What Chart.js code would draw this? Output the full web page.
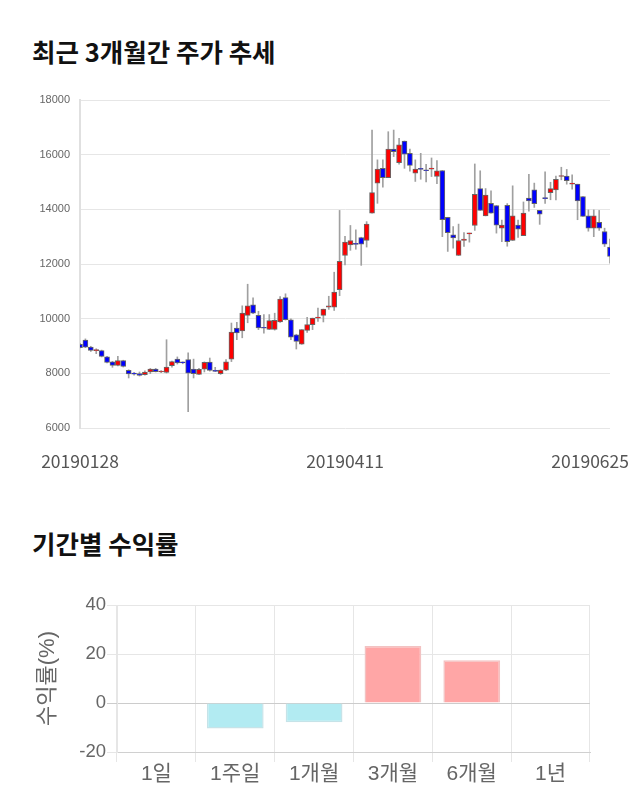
<!DOCTYPE html>
<html>
<head>
<meta charset="utf-8">
<script src="https://cdn.jsdelivr.net/npm/chart.js@4.4.0/dist/chart.umd.min.js"></script>
<style>
  body { margin: 0; background: #fff; width: 640px; height: 810px; position: relative; overflow: hidden; }
  .title { position: absolute; left: 32px; font-family: "Noto Sans CJK KR", sans-serif; font-weight: bold; font-size: 25.5px; line-height: 30px; color: #111; }
  .box { position: absolute; left: 0; }
</style>
</head>
<body>
<div class="title" style="top:36px;">최근 3개월간 주가 추세</div>
<div class="box" style="top:80px;"><canvas id="priceChart" width="640" height="400"></canvas></div>
<div class="title" style="top:528px;">기간별 수익률</div>
<div class="box" style="top:580px;"><canvas id="returnChart" width="640" height="220"></canvas></div>
<script>
// trading days shown on the price chart
var dates = [
  '20190128','20190129','20190130','20190131','20190201','20190207','20190208','20190211','20190212','20190213',
  '20190214','20190215','20190218','20190219','20190220','20190221','20190222','20190225','20190226','20190227',
  '20190228','20190304','20190305','20190306','20190307','20190308','20190311','20190312','20190313','20190314',
  '20190315','20190318','20190319','20190320','20190321','20190322','20190325','20190326','20190327','20190328',
  '20190329','20190401','20190402','20190403','20190404','20190405','20190408','20190409','20190410','20190411',
  '20190412','20190415','20190416','20190417','20190418','20190419','20190422','20190423','20190424','20190425',
  '20190426','20190429','20190430','20190502','20190503','20190507','20190508','20190509','20190510','20190513',
  '20190514','20190515','20190516','20190517','20190520','20190521','20190522','20190523','20190524','20190527',
  '20190528','20190529','20190530','20190531','20190603','20190604','20190605','20190607','20190610','20190611',
  '20190612','20190613','20190614','20190617','20190618','20190619','20190620','20190624','20190625'
];
var shownDates = ['20190128', '20190411', '20190625'];

var opens = [
  9060, 9220, 8960, 8830, 8830, 8600, 8420, 8290, 8470, 8110,
  7980, 7990, 7950, 8050, 8160, 8050, 8030, 8280, 8520, 8390,
  8500, 8160, 7960, 8150, 8410, 8110, 7990, 8120, 8520, 9660,
  9550, 10120, 10510, 10120, 9660, 9610, 9610, 9880, 10770, 9960,
  9410, 9070, 9570, 9780, 10020, 10120, 10420, 10420, 11060, 12310,
  12700, 12730, 12970, 12860, 13860, 14960, 15500, 15160, 16200, 15710,
  16500, 16050, 15320, 15470, 15420, 15470, 15200, 15420, 13710, 13070,
  12310, 12860, 13100, 13410, 14760, 13760, 14220, 14140, 13310, 14150,
  12860, 13420, 13040, 14410, 14710, 13960, 14410, 14610, 14710, 15200,
  15220, 14920, 14920, 14470, 13760, 13310, 13520, 13190, 12620
];
var highs = [
  9100, 9260, 8990, 8900, 8850, 8620, 8440, 8620, 8480, 8130,
  8040, 8050, 8090, 8180, 8180, 8100, 9230, 8450, 8600, 8420,
  8750, 8520, 8180, 8420, 8560, 8220, 8130, 8500, 9840, 9870,
  10470, 11260, 10760, 10270, 10150, 10150, 10200, 10810, 10910, 9990,
  9430, 9600, 10050, 10020, 10390, 10350, 10820, 11700, 13960, 13010,
  13410, 13250, 12980, 13550, 16900, 15810, 15810, 16840, 16900, 16600,
  16500, 16200, 15810, 16050, 15650, 15880, 15780, 15420, 13710, 13370,
  13460, 13150, 13130, 15660, 15410, 14760, 14680, 14140, 13610, 14210,
  14860, 13610, 14270, 15280, 14960, 13960, 15370, 14990, 15220, 15540,
  15460, 15260, 14920, 14470, 13980, 13980, 13960, 13310, 12910
];
var lows = [
  8930, 8940, 8800, 8720, 8600, 8380, 8220, 8270, 8230, 7830,
  7930, 7900, 7930, 7990, 8050, 8020, 8010, 8230, 8340, 8350,
  6600, 7830, 7950, 8050, 8080, 8060, 7960, 8100, 8430, 9230,
  9300, 9850, 10180, 9600, 9470, 9600, 9580, 9860, 9950, 9230,
  8890, 9060, 9500, 9600, 9900, 9880, 10340, 10300, 10840, 11970,
  12500, 12540, 11950, 12620, 13860, 14220, 14810, 15160, 15930, 15650,
  15500, 15400, 15020, 15100, 15000, 15200, 14940, 13000, 12460, 12580,
  12310, 12640, 12800, 13230, 13960, 13760, 13860, 13130, 12820, 12650,
  12860, 12970, 13040, 13930, 14070, 13450, 14220, 14350, 14340, 15080,
  14920, 14740, 13620, 13740, 13200, 13000, 13230, 12640, 12030
];
var closes = [
  8940, 8960, 8840, 8830, 8620, 8400, 8290, 8470, 8250, 7980,
  7970, 7920, 8050, 8160, 8060, 8050, 8230, 8430, 8380, 8380,
  8010, 7990, 8150, 8400, 8110, 8070, 8120, 8420, 9510, 9480,
  10200, 10470, 10200, 9660, 9650, 9930, 9940, 10720, 9960, 9320,
  9170, 9600, 9780, 10020, 10020, 10350, 10470, 10970, 12100, 12800,
  12860, 12720, 12730, 13460, 14610, 15470, 15160, 16200, 16110, 16360,
  16020, 15610, 15470, 15460, 15410, 15500, 15410, 13620, 13150, 12950,
  12860, 12910, 13100, 14550, 13960, 14520, 13860, 13420, 13420, 12820,
  13760, 13270, 13860, 14310, 14210, 13820, 14390, 14760, 15100, 15200,
  15050, 14920, 14310, 13740, 13310, 13760, 13310, 12730, 12280
];
var priceTicks = [6000, 8000, 10000, 12000, 14000, 16000, 18000];

var periods = ['1일', '1주일', '1개월', '3개월', '6개월', '1년'];
var returns = [0, -10.4, -7.9, 23.3, 17.5, null];
var returnTicks = [-20, 0, 20, 40];

var numFont = "'Liberation Sans', 'Noto Sans CJK KR', sans-serif";

// date labels under the candles, the last one kept inside the canvas
var dateLabels = {
  id: 'dateLabels',
  afterDraw: function (chart) {
    var ctx = chart.ctx;
    var x = chart.scales.x;
    ctx.save();
    ctx.font = '17.5px "Noto Sans CJK KR", sans-serif';
    ctx.fillStyle = '#555';
    ctx.textAlign = 'center';
    ctx.textBaseline = 'middle';
    shownDates.forEach(function (d) {
      var cx = x.getPixelForValue(dates.indexOf(d));
      var w = ctx.measureText(d).width;
      if (cx + w / 2 > chart.width - 11) cx = chart.width - 11 - w / 2;
      if (cx - w / 2 < 0) cx = w / 2;
      ctx.fillText(d, cx, chart.chartArea.bottom + 33);
    });
    ctx.restore();
  }
};

var ctx1 = document.getElementById('priceChart').getContext('2d');
var priceChart = new Chart(ctx1, {
    type: 'bar',
    data: {
        labels: dates,
        datasets: [{
            label: 'wick',
            data: dates.map(function (d, i) { return [lows[i], highs[i]]; }),
            backgroundColor: '#a0a0a0',
            barThickness: 1,
            grouped: false,
            clip: 0,
            order: 2
        }, {
            label: 'body',
            data: dates.map(function (d, i) { return [opens[i], closes[i]]; }),
            backgroundColor: dates.map(function (d, i) { return closes[i] >= opens[i] ? '#ff0000' : '#0000ff'; }),
            borderColor: '#666',
            borderWidth: 1,
            borderSkipped: false,
            barThickness: 5,
            minBarLength: 1,
            grouped: false,
            clip: 0,
            order: 1
        }]
    },
    options: {
        responsive: false,
        animation: false,
        layout: { padding: { top: 20, right: 30, left: 0, bottom: 0 } },
        plugins: { legend: { display: false }, tooltip: { enabled: false } },
        scales: {
            x: {
                offset: false,
                grid: { display: false },
                border: { display: false },
                ticks: { display: false },
                afterFit: function (scale) { scale.height = 52; }
            },
            y: {
                min: 6000,
                max: 18000,
                afterBuildTicks: function (scale) { scale.ticks = priceTicks.map(function (v) { return { value: v }; }); },
                ticks: {
                    font: { family: numFont, size: 11 },
                    color: '#666',
                    padding: 10,
                    callback: function (v) { return String(v); }
                },
                grid: { color: '#e6e6e6', drawTicks: false },
                border: { color: '#e0e0e0', width: 2 },
                afterFit: function (scale) { scale.width = 80; }
            }
        }
    },
    plugins: [dateLabels]
});

var ctx2 = document.getElementById('returnChart').getContext('2d');
var returnChart = new Chart(ctx2, {
    type: 'bar',
    data: {
        labels: periods,
        datasets: [{
            label: '수익률',
            data: returns,
            backgroundColor: returns.map(function (v) { return v < 0 ? '#b2ebf2' : '#ffa6a6'; }),
            borderColor: returns.map(function (v) { return v < 0 ? '#c6e3e8' : '#f2c2c2'; }),
            borderWidth: 1.5
        }]
    },
    options: {
        responsive: false,
        animation: false,
        layout: { padding: { top: 25, right: 50, left: 0, bottom: 0 } },
        plugins: { legend: { display: false }, tooltip: { enabled: false } },
        scales: {
            x: {
                ticks: { font: { family: numFont, size: 21 }, color: '#666', padding: 0 },
                grid: { color: '#e6e6e6', tickLength: 10 },
                border: { color: '#d0d0d0' },
                afterFit: function (scale) { scale.height = 48; }
            },
            y: {
                min: -20,
                max: 40,
                afterBuildTicks: function (scale) { scale.ticks = returnTicks.map(function (v) { return { value: v }; }); },
                ticks: { font: { family: numFont, size: 18.5 }, color: '#666', padding: 1 },
                grid: {
                    color: function (c) { return c.tick && c.tick.value === 0 ? '#cccccc' : '#e6e6e6'; },
                    tickLength: 10
                },
                border: { color: '#e6e6e6' },
                title: {
                    display: true,
                    text: '수익률(%)',
                    font: { family: numFont, size: 22 },
                    color: '#666',
                    padding: { top: 35, bottom: 0 }
                },
                afterFit: function (scale) { scale.width = 117; }
            }
        }
    }
});
</script>
</body>
</html>
